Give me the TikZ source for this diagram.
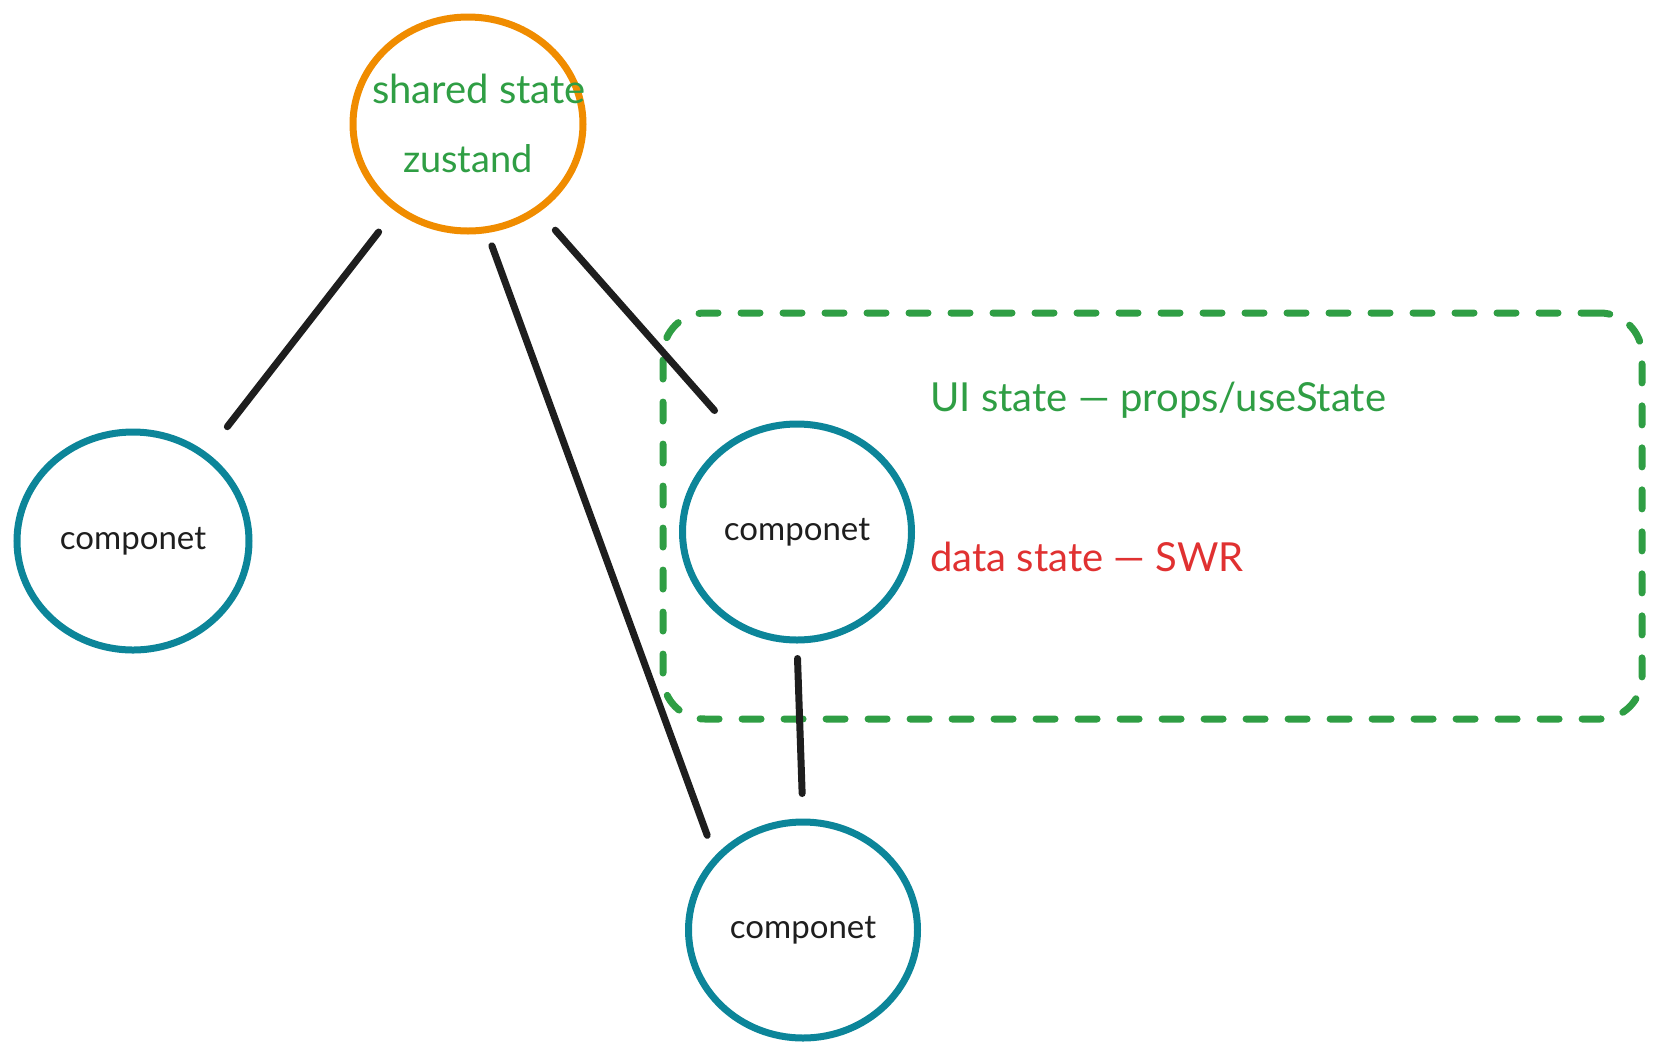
\documentclass[tikz,border=0pt]{standalone}
\usepackage{fontspec}
\setmainfont{Lato}
\usetikzlibrary{shapes.geometric}

\definecolor{inkblack}{HTML}{1E1E1E}
\definecolor{storeorange}{HTML}{F08C00}
\definecolor{compteal}{HTML}{0C8599}
\definecolor{stategreen}{HTML}{2F9E44}
\definecolor{datared}{HTML}{E03131}

\tikzset{
  store/.style={ellipse, draw=storeorange, line width=3.5pt, inner sep=0pt,
    minimum width=115pt, minimum height=107pt},
  comp/.style={ellipse, draw=compteal, line width=3.5pt, inner sep=0pt,
    minimum width=114.5pt, minimum height=108pt,
    font=\fontsize{16.5}{19}\selectfont, text=inkblack},
  wire/.style={draw=inkblack, line width=3.5pt, line cap=round},
  groupbox/.style={rectangle, draw=stategreen, line width=3.5pt, line cap=round,
    dash pattern=on 9.5pt off 11.5pt, rounded corners=21pt,
    minimum width=489.5pt, minimum height=203pt, inner sep=0pt},
  note/.style={anchor=west, inner sep=0pt, font=\fontsize{20}{24}\selectfont}
}

\begin{document}
\begin{tikzpicture}[x=0.5pt, y=-0.5pt]
  \useasboundingbox (0,0) rectangle (1661,1057);

  % scope of local state
  \node[groupbox] (scopebox) at (1152.5,516) {};

  % store and components
  \node[store] (store) at (468,124) {};
  \node[text=stategreen, font=\fontsize{20}{24}\selectfont] (storetitle) at (479,89) {shared state};
  \node[text=stategreen, font=\fontsize{19}{23}\selectfont] (storelib) at (468,159) {zustand};

  \node[comp, minimum width=116pt, minimum height=109pt] (left) at (133,541) {componet};
  \node[comp] (mid) at (797,532) {componet};
  \node[comp] (bottom) at (803,930) {componet};

  % labels inside the group
  \node[note, text=stategreen] (uistate) at (930,400) {UI state — props/useState};
  \node[note, text=datared] (datastate) at (930,557) {data state — SWR};

  % connectors
  \draw[wire, shorten <=13.3pt, shorten >=16.5pt] (store.-130.6) -- (left.50.6);
  \draw[wire, shorten <=6.8pt, shorten >=11pt] (store.-80) -- (bottom.140);
  \draw[wire, shorten <=12pt, shorten >=17pt] (store.-51.7) -- (mid.122.8);
  \draw[wire, shorten <=7.5pt, shorten >=12.5pt] (mid.south) -- (bottom.north);
\end{tikzpicture}
\end{document}
